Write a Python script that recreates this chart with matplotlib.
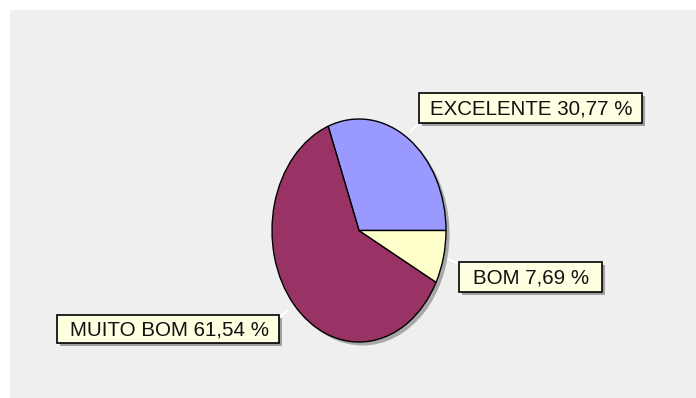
import matplotlib.pyplot as plt
from matplotlib.patches import Rectangle, Ellipse

# survey results
categories = ['EXCELENTE', 'MUITO BOM', 'BOM']
values = [30.77, 61.54, 7.69]
colors = ['#9999FF', '#993366', '#FFFFCC']

# label boxes (x0, y0, x1, y1 in pixels) and leader line ends
boxes = [(419, 93, 642, 123), (57, 315, 279, 343), (459, 262, 602, 292)]
leaders = [((411, 131), (420, 122)), ((287, 311), (279, 318)), ((446, 258), (459, 264))]

W, H = 696, 398
fig = plt.figure(figsize=(W / 100, H / 100), dpi=100)
fig.patch.set_facecolor('white')

ax = fig.add_axes([0, 0, 1, 1])
ax.set_xlim(0, W)
ax.set_ylim(H, 0)
ax.axis('off')
ax.add_patch(Rectangle((10, 10), W - 10, H - 10, facecolor='#EFEFEF', edgecolor='none', zorder=0))

# pie lives in its own axes so the circle stretches into an ellipse
px0, py0, px1, py1 = 272, 119, 446, 342
pax = fig.add_axes([px0 / W, 1 - py1 / H, (px1 - px0) / W, (py1 - py0) / H])
wedges, _ = pax.pie(values, colors=colors, startangle=0, counterclock=True,
                    wedgeprops=dict(edgecolor='black', linewidth=1.0))
pax.set_aspect('auto')
pax.set_xlim(-1, 1)
pax.set_ylim(-1, 1)
pax.axis('off')
for w in wedges:
    w.set_clip_on(False)
rx, ry = (px1 - px0) / 2, (py1 - py0) / 2
shadow = Ellipse((3.5 / rx, -3.5 / ry), 2, 2, facecolor='#A8A8A8', edgecolor='none',
                 zorder=0, clip_on=False)
pax.add_patch(shadow)

# labels with drop shadows
for name, val, (x0, y0, x1, y1), (p, q) in zip(categories, values, boxes, leaders):
    ax.plot([p[0], q[0]], [p[1], q[1]], color='white', lw=1.5, zorder=2)
    ax.add_patch(Rectangle((x0 + 3, y0 + 3), x1 - x0, y1 - y0, facecolor='#8C8C8C',
                           edgecolor='none', alpha=0.8, zorder=3))
    ax.add_patch(Rectangle((x0, y0), x1 - x0, y1 - y0, facecolor='#FFFFE1',
                           edgecolor='black', lw=1.2, zorder=4))
    txt = f'{name} {val:.2f} %'.replace('.', ',')
    ax.text((x0 + x1) / 2 + 1, (y0 + y1) / 2 + 1, txt, ha='center', va='center',
            fontsize=14.8, family='Liberation Sans', color='#111111', zorder=5)

fig.savefig('out.png', dpi=100)
